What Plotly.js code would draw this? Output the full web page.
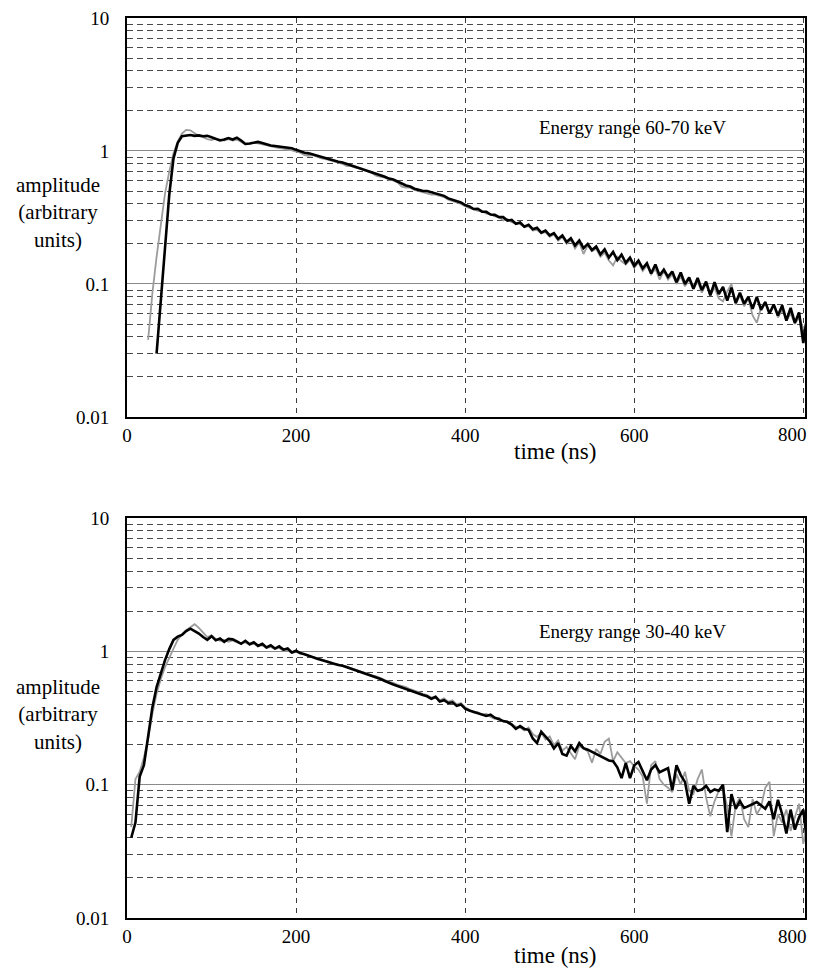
<!DOCTYPE html>
<html>
<head>
<meta charset="utf-8">
<script src="https://cdn.plot.ly/plotly-3.0.1.min.js"></script>
<style>
  html, body { margin: 0; padding: 0; background: #fff; }
  #chart { width: 813px; height: 971px; }
</style>
</head>
<body>
<div id="chart"></div>
<script>
// time axis (ns), sample grid
const time = [
  0,5,10,15,20,25,30,35,40,45,
  50,55,60,65,70,75,80,85,90,95,
  100,105,110,115,120,125,130,135,140,145,
  150,155,160,165,170,175,180,185,190,195,
  200,205,210,215,220,225,230,235,240,245,
  250,255,260,265,270,275,280,285,290,295,
  300,305,310,315,320,325,330,335,340,345,
  350,355,360,365,370,375,380,385,390,395,
  400,405,410,415,420,425,430,435,440,445,
  450,455,460,465,470,475,480,485,490,495,
  500,505,510,515,520,525,530,535,540,545,
  550,555,560,565,570,575,580,585,590,595,
  600,605,610,615,620,625,630,635,640,645,
  650,655,660,665,670,675,680,685,690,695,
  700,705,710,715,720,725,730,735,740,745,
  750,755,760,765,770,775,780,785,790,795,
  800,805
];

// Top panel: energy range 60-70 keV
const top60_black = [
  null,null,null,null,null,null,null,0.030,0.075,0.19,
  0.47,0.88,1.15,1.29,1.31,1.32,1.30,1.31,1.29,1.30,
  1.27,1.24,1.20,1.22,1.25,1.22,1.26,1.20,1.13,1.14,
  1.16,1.17,1.15,1.12,1.10,1.09,1.08,1.07,1.07,1.05,
  1.02,0.99,0.97,0.96,0.94,0.92,0.90,0.89,0.86,0.85,
  0.83,0.82,0.80,0.78,0.76,0.75,0.73,0.71,0.69,0.68,
  0.66,0.64,0.62,0.61,0.59,0.57,0.55,0.54,0.52,0.51,
  0.50,0.50,0.49,0.48,0.47,0.46,0.44,0.43,0.42,0.41,
  0.392,0.383,0.366,0.368,0.350,0.349,0.333,0.331,0.318,0.318,
  0.300,0.303,0.284,0.290,0.270,0.279,0.258,0.265,0.243,0.252,
  0.232,0.241,0.218,0.232,0.207,0.221,0.195,0.212,0.186,0.200,
  0.180,0.191,0.167,0.182,0.158,0.174,0.151,0.166,0.144,0.158,
  0.137,0.150,0.131,0.143,0.120,0.140,0.116,0.128,0.113,0.124,
  0.103,0.122,0.100,0.112,0.092,0.111,0.090,0.104,0.082,0.103,
  0.084,0.095,0.075,0.094,0.072,0.086,0.071,0.080,0.065,0.080,
  0.064,0.073,0.060,0.070,0.058,0.069,0.053,0.066,0.051,0.061,
  0.036,0.060
];
const top60_gray = [
  null,null,null,null,null,0.038,0.085,0.16,0.29,0.48,
  0.70,0.96,1.18,1.35,1.44,1.43,1.36,1.30,1.27,1.23,
  1.21,1.24,1.22,1.20,1.23,1.20,1.22,1.17,1.12,1.13,
  1.15,1.14,1.12,1.10,1.08,1.06,1.05,1.04,1.03,1.01,
  0.99,0.97,0.93,0.92,0.93,0.90,0.88,0.87,0.85,0.84,
  0.82,0.80,0.77,0.77,0.75,0.74,0.72,0.70,0.68,0.65,
  0.64,0.63,0.61,0.60,0.58,0.54,0.53,0.53,0.51,0.50,
  0.49,0.48,0.47,0.47,0.46,0.45,0.43,0.42,0.41,0.40,
  0.385,0.372,0.365,0.355,0.352,0.338,0.335,0.322,0.320,0.300,
  0.308,0.292,0.285,0.282,0.268,0.272,0.252,0.255,0.240,0.245,
  0.226,0.236,0.212,0.225,0.200,0.214,0.185,0.205,0.168,0.195,
  0.176,0.184,0.160,0.172,0.150,0.138,0.160,0.148,0.140,0.152,
  0.132,0.145,0.125,0.138,0.118,0.130,0.108,0.125,0.108,0.118,
  0.100,0.114,0.096,0.108,0.092,0.104,0.086,0.100,0.082,0.094,
  0.078,0.074,0.088,0.100,0.070,0.082,0.068,0.078,0.058,0.051,
  0.066,0.074,0.060,0.070,0.056,0.064,0.053,0.060,0.050,0.056,
  0.046,0.052
];

// Bottom panel: energy range 30-40 keV
const bot30_black = [
  null,0.040,0.052,0.115,0.14,0.23,0.38,0.54,0.69,0.86,
  1.04,1.22,1.29,1.33,1.42,1.48,1.42,1.36,1.28,1.22,
  1.30,1.21,1.25,1.18,1.24,1.23,1.19,1.14,1.20,1.13,
  1.17,1.10,1.14,1.07,1.11,1.05,1.09,1.03,1.05,0.98,
  1.01,0.97,0.95,0.93,0.91,0.88,0.86,0.84,0.82,0.81,
  0.79,0.78,0.76,0.74,0.73,0.71,0.69,0.67,0.65,0.64,
  0.62,0.60,0.58,0.565,0.55,0.535,0.52,0.51,0.495,0.485,
  0.47,0.46,0.44,0.455,0.42,0.43,0.41,0.415,0.39,0.40,
  0.372,0.360,0.352,0.345,0.340,0.328,0.335,0.318,0.310,0.300,
  0.295,0.282,0.262,0.275,0.262,0.258,0.222,0.205,0.250,0.228,
  0.212,0.187,0.205,0.170,0.165,0.195,0.178,0.205,0.188,0.183,
  0.176,0.170,0.163,0.158,0.152,0.150,0.135,0.112,0.145,0.112,
  0.140,0.148,0.125,0.108,0.130,0.140,0.124,0.128,0.133,0.091,
  0.140,0.118,0.105,0.072,0.098,0.090,0.092,0.098,0.088,0.092,
  0.090,0.100,0.044,0.085,0.066,0.075,0.067,0.069,0.072,0.074,
  0.070,0.066,0.075,0.055,0.077,0.060,0.043,0.065,0.046,0.057,
  0.065,0.034
];
const bot30_gray = [
  null,0.048,0.11,0.125,0.16,0.22,0.34,0.48,0.62,0.76,
  0.90,1.05,1.22,1.34,1.44,1.52,1.60,1.50,1.38,1.28,
  1.32,1.24,1.20,1.22,1.18,1.21,1.17,1.15,1.17,1.12,
  1.14,1.10,1.11,1.06,1.08,1.04,1.06,1.01,1.02,0.97,
  0.99,0.96,0.95,0.92,0.91,0.89,0.87,0.85,0.83,0.80,
  0.80,0.78,0.77,0.75,0.73,0.72,0.70,0.68,0.66,0.65,
  0.63,0.61,0.59,0.58,0.56,0.55,0.54,0.52,0.51,0.495,
  0.48,0.47,0.45,0.46,0.43,0.445,0.42,0.43,0.40,0.41,
  0.380,0.362,0.348,0.350,0.335,0.340,0.322,0.312,0.318,0.298,
  0.300,0.285,0.272,0.268,0.255,0.268,0.240,0.228,0.245,0.218,
  0.230,0.198,0.215,0.180,0.192,0.172,0.155,0.195,0.185,0.178,
  0.146,0.185,0.170,0.210,0.222,0.150,0.175,0.160,0.145,0.150,
  0.138,0.130,0.115,0.072,0.140,0.150,0.110,0.100,0.095,0.088,
  0.120,0.100,0.125,0.090,0.085,0.110,0.130,0.080,0.058,0.075,
  0.090,0.095,0.068,0.041,0.070,0.080,0.055,0.048,0.078,0.060,
  0.068,0.095,0.105,0.041,0.060,0.052,0.065,0.045,0.058,0.072,
  0.036,0.050
];

// axis ticks
const xTicks = [0, 200, 400, 600, 800];
const yTicks = [0.01, 0.1, 1, 10];
const yTickText = ['0.01', '0.1', '1', '10'];
const yMinor = [0.02,0.03,0.04,0.05,0.06,0.07,0.08,0.09,
                0.2,0.3,0.4,0.5,0.6,0.7,0.8,0.9,
                2,3,4,5,6,7,8,9];

const panelLabels = ['Energy range 60-70 keV', 'Energy range 30-40 keV'];
const yTitle = 'amplitude<br>(arbitrary<br>units)';
const xTitle = 'time (ns)';

const FONT = '"Liberation Serif", "Times New Roman", serif';

// the last x tick label sits at the right edge; it is drawn as an annotation
// pulled slightly left (as in the original) so it is not clipped
const lastX = xTicks[xTicks.length - 1];
const xTickText = xTicks.map((v, i) => i === xTicks.length - 1 ? '' : String(v));

function xAxis(anchor) {
  return {
    anchor: anchor, domain: [0, 1], range: [0, 802],
    tickmode: 'array', tickvals: xTicks, ticktext: xTickText,
    showgrid: true, gridcolor: '#3a3a3a', gridwidth: 1, griddash: '5px,5px',
    showline: true, mirror: true, linecolor: '#000', linewidth: 2,
    ticks: '', zeroline: false, ticklabelstandoff: 0,
    tickfont: { family: FONT, size: 19, color: '#000' }
  };
}
function yAxis(anchor, domain) {
  return {
    anchor: anchor, domain: domain, type: 'log', range: [-2, 1],
    tickmode: 'array', tickvals: yTicks, ticktext: yTickText,
    showgrid: true, gridcolor: '#8a8a8a', gridwidth: 1,
    minor: { tickmode: 'array', tickvals: yMinor, showgrid: true,
             gridcolor: '#4a4a4a', gridwidth: 1, griddash: '6px,4px', ticks: '' },
    showline: true, mirror: true, linecolor: '#000', linewidth: 2,
    ticks: '', zeroline: false, ticklabelstandoff: 12, ticklabeloverflow: 'allow',
    tickfont: { family: FONT, size: 19, color: '#000' }
  };
}

const grayLine = { color: '#9c9c9c', width: 1.8 };
const blackLine = { color: '#000', width: 2.6 };

const data = [
  { x: time, y: top60_gray, xaxis: 'x', yaxis: 'y', mode: 'lines', line: grayLine, connectgaps: false },
  { x: time, y: top60_black, xaxis: 'x', yaxis: 'y', mode: 'lines', line: blackLine, connectgaps: false },
  { x: time, y: bot30_gray, xaxis: 'x2', yaxis: 'y2', mode: 'lines', line: grayLine, connectgaps: false },
  { x: time, y: bot30_black, xaxis: 'x2', yaxis: 'y2', mode: 'lines', line: blackLine, connectgaps: false }
];

const textFont = { family: FONT, size: 21, color: '#000' };
const timeFont = { family: FONT, size: 23, color: '#000' };
const annFont = { family: FONT, size: 19, color: '#000' };
const tickFont = { family: FONT, size: 19, color: '#000' };

function txt(text, x, y, font, xref, xanchor, xshift) {
  return { text: text, xref: xref || 'paper', yref: 'paper', x: x, y: y,
           xanchor: xanchor || 'center', yanchor: 'middle', xshift: xshift || 0,
           showarrow: false, font: font, align: 'center' };
}

const annotations = [
  txt(panelLabels[0], 0.745, 0.8778, annFont),
  txt(panelLabels[1], 0.745, 0.3178, annFont),
  txt(xTitle, 0.6313, 0.5178, timeFont),
  txt(xTitle, 0.6313, -0.0422, timeFont),
  txt(String(lastX), lastX, 0.5367, tickFont, 'x', 'right', 6),
  txt(String(lastX), lastX, -0.0200, tickFont, 'x2', 'right', 6),
  txt(yTitle, -0.102, 0.7844, textFont),
  txt(yTitle, -0.102, 0.2256, textFont)
];

const layout = {
  width: 813, height: 971,
  margin: { l: 127, r: 8, t: 18, b: 53 },
  paper_bgcolor: '#fff', plot_bgcolor: '#fff',
  showlegend: false, hovermode: false,
  xaxis: xAxis('y'),
  yaxis: yAxis('x', [0.5567, 1]),
  xaxis2: xAxis('y2'),
  yaxis2: yAxis('x2', [0, 0.4444]),
  annotations: annotations
};

Plotly.newPlot('chart', data, layout, { staticPlot: true, displayModeBar: false });
</script>
</body>
</html>
